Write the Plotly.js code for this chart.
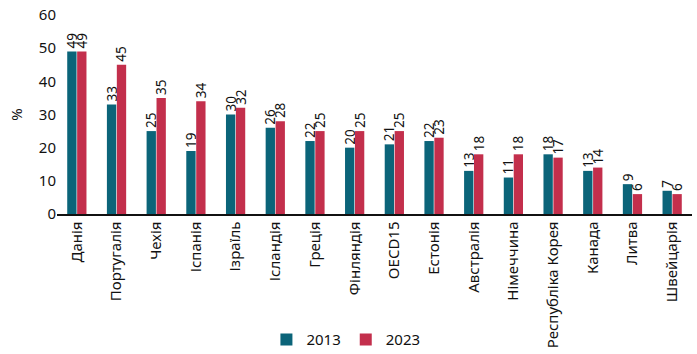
<!DOCTYPE html>
<html><head><meta charset="utf-8">
<script src="https://cdn.plot.ly/plotly-3.0.1.min.js"></script>
<style>html,body{margin:0;padding:0;background:#fff}</style>
</head><body>
<div id="chart" style="width:697px;height:354px"></div>
<script>
const categories = ["Данія","Португалія","Чехія","Іспанія","Ізраїль","Ісландія","Греція","Фінляндія","OECD15","Естонія","Австралія","Німеччина","Республіка Корея","Канада","Литва","Швейцарія"];
const values2013 = [49,33,25,19,30,26,22,20,21,22,13,11,18,13,9,7];
const values2023 = [49,45,35,34,32,28,25,25,25,23,18,18,17,14,6,6];
const seriesNames = ["2013","2023"];
const yTicks = [0,10,20,30,40,50,60];

const font = "Noto Sans, Open Sans, sans-serif";
const mk = (name, vals, color) => ({
  type: "bar", name: name, x: categories, y: vals,
  marker: {color: color, line: {width: 0}},
  text: vals.map(String), textposition: "outside", textangle: -90,
  constraintext: "none",
  textfont: {family: font, size: 13.5, color: "#111"},
  cliponaxis: false
});
const data = [mk(seriesNames[0], values2013, "#0b6479"), mk(seriesNames[1], values2023, "#c32f4c")];
const layout = {
  width: 697, height: 354,
  margin: {l: 57, r: 5, t: 15, b: 140},
  paper_bgcolor: "#fff", plot_bgcolor: "#fff",
  barmode: "group", bargap: 0.5, bargroupgap: 0.06,
  font: {family: font, color: "#111"},
  xaxis: {showline: true, linecolor: "#111", linewidth: 1.5, ticks: "", tickangle: -90,
          tickfont: {family: font, size: 15, color: "#111"}, automargin: false},
  yaxis: {range: [0, 60], tickvals: yTicks, showgrid: false, zeroline: false, showline: false,
          tickfont: {family: font, size: 15, color: "#111"},
          title: {text: "%", font: {family: font, size: 15, color: "#111"}, standoff: 12}, automargin: false},
  showlegend: true,
  legend: {orientation: "h", x: 0.455, xanchor: "center", yref: "container", y: 0.04, yanchor: "middle",
           font: {family: font, size: 15, color: "#111"}, itemwidth: 30, traceorder: "normal"}
};
Plotly.newPlot("chart", data, layout, {displayModeBar: false, staticPlot: true});
</script>
</body></html>
